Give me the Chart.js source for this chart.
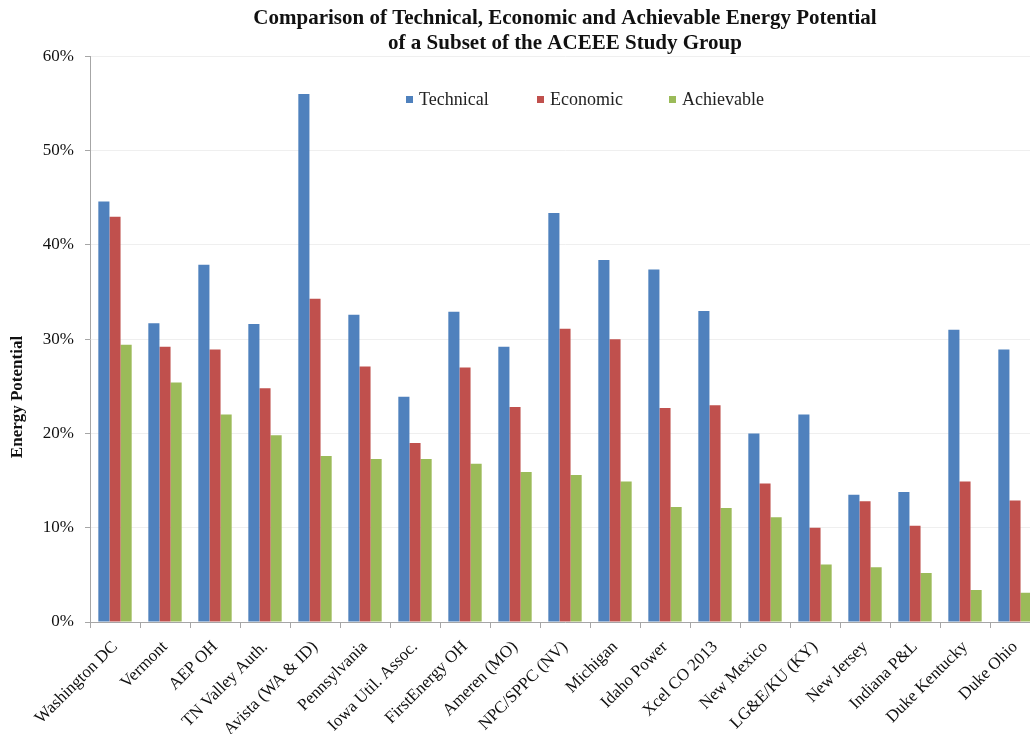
<!DOCTYPE html>
<html lang="en">
<head>
    <meta charset="UTF-8">
    <title>Technical, Economic and Achievable Energy Potential</title>
    <script src="https://cdn.jsdelivr.net/npm/chart.js"></script>
    <style>
        html, body {
            margin: 0;
            padding: 0;
            background: #fff;
            overflow: hidden;
        }
        .chart-box {
            width: 1042px;
            height: 734px;
        }
    </style>
</head>
<body>
    <div class="chart-box">
        <canvas id="potentialChart"></canvas>
    </div>

    <script>
        const utilities = ['Washington DC', 'Vermont', 'AEP OH', 'TN Valley Auth.', 'Avista (WA & ID)', 'Pennsylvania',
            'Iowa Util. Assoc.', 'FirstEnergy OH', 'Ameren (MO)', 'NPC/SPPC (NV)', 'Michigan', 'Idaho Power',
            'Xcel CO 2013', 'New Mexico', 'LG&E/KU (KY)', 'New Jersey', 'Indiana P&L', 'Duke Kentucky', 'Duke Ohio'];
        const technical = [44.6, 31.7, 37.9, 31.6, 56.0, 32.6, 23.9, 32.9, 29.2, 43.4, 38.4, 37.4, 33.0, 20.0, 22.0, 13.5, 13.8, 31.0, 28.9];
        const economic = [43.0, 29.2, 28.9, 24.8, 34.3, 27.1, 19.0, 27.0, 22.8, 31.1, 30.0, 22.7, 23.0, 14.7, 10.0, 12.8, 10.2, 14.9, 12.9];
        const achievable = [29.4, 25.4, 22.0, 19.8, 17.6, 17.3, 17.3, 16.8, 15.9, 15.6, 14.9, 12.2, 12.1, 11.1, 6.1, 5.8, 5.2, 3.4, 3.1];
        const yTicks = [0, 10, 20, 30, 40, 50, 60];

        const serif = "'Liberation Serif', 'Times New Roman', serif";

        // legend sits inside the plot, drawn by hand like the Excel original
        const insideLegend = {
            id: 'insideLegend',
            afterDraw(chart) {
                const ctx = chart.ctx;
                const spots = [406, 537, 669];
                ctx.save();
                ctx.font = '18px ' + serif;
                ctx.textBaseline = 'middle';
                chart.data.datasets.forEach((ds, i) => {
                    ctx.fillStyle = ds.backgroundColor;
                    ctx.fillRect(spots[i], 96, 7, 7);
                    ctx.fillStyle = '#222';
                    ctx.fillText(ds.label, spots[i] + 13, 100);
                });
                ctx.restore();
            }
        };

        const yTitle = {
            id: 'yTitle',
            afterDraw(chart) {
                const ctx = chart.ctx;
                ctx.save();
                ctx.translate(18, 397);
                ctx.rotate(-Math.PI / 2);
                ctx.font = 'bold 17px ' + serif;
                ctx.fillStyle = '#111';
                ctx.textAlign = 'center';
                ctx.textBaseline = 'middle';
                ctx.fillText('Energy Potential', 0, 0);
                ctx.restore();
            }
        };

        new Chart(document.getElementById('potentialChart'), {
            type: 'bar',
            data: {
                labels: utilities,
                datasets: [
                    { label: 'Technical', data: technical, backgroundColor: '#4F81BD' },
                    { label: 'Economic', data: economic, backgroundColor: '#C0504D' },
                    { label: 'Achievable', data: achievable, backgroundColor: '#9BBB59' }
                ]
            },
            options: {
                responsive: true,
                maintainAspectRatio: false,
                animation: false,
                layout: { padding: { left: 0, right: 2, top: 0, bottom: 0 } },
                datasets: {
                    bar: { categoryPercentage: 0.667, barPercentage: 1.0 }
                },
                plugins: {
                    legend: { display: false },
                    tooltip: { enabled: false },
                    title: {
                        display: true,
                        fullSize: false,
                        text: ['Comparison of Technical, Economic and Achievable Energy Potential',
                               'of a Subset of the ACEEE Study Group'],
                        color: '#111',
                        font: { family: serif, size: 21, weight: 'bold', lineHeight: 1.2 },
                        padding: { top: 6, bottom: 0 }
                    }
                },
                scales: {
                    x: {
                        grid: { drawOnChartArea: false, drawTicks: true, tickLength: 6, color: '#a6a6a6' },
                        border: { color: '#a6a6a6' },
                        ticks: {
                            autoSkip: false,
                            maxRotation: 45,
                            minRotation: 45,
                            padding: 9,
                            color: '#111',
                            font: { family: serif, size: 17 }
                        },
                        afterFit(scale) { scale.height = 112; }
                    },
                    y: {
                        min: 0,
                        max: 60,
                        afterBuildTicks(scale) { scale.ticks = yTicks.map(v => ({ value: v })); },
                        grid: { color: '#efefef', tickLength: 5, tickColor: '#a6a6a6' },
                        border: { color: '#a6a6a6' },
                        ticks: {
                            padding: 11,
                            color: '#111',
                            font: { family: serif, size: 17 },
                            callback: v => v + '%'
                        },
                        afterFit(scale) { scale.width = 90; }
                    }
                }
            },
            plugins: [insideLegend, yTitle]
        });
    </script>
</body>
</html>
